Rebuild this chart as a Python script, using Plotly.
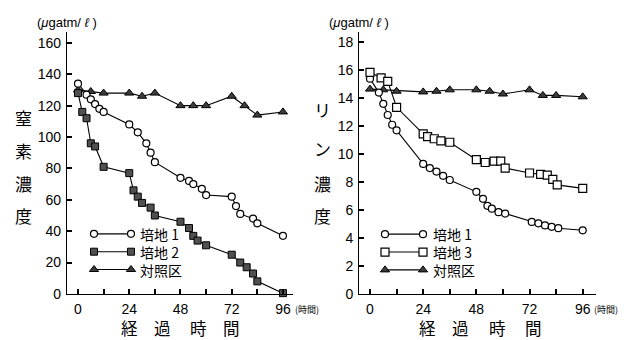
import plotly.graph_objects as go

# --- Nitrogen (left panel) ---
n_t1 = [0, 4, 6, 8, 10, 12, 24, 28, 32, 34, 36, 48, 52, 54, 58, 60, 72, 74, 76, 82, 84, 96]
n_v1 = [134, 127, 124, 121, 118, 116, 108, 103, 96, 90, 84, 74, 72, 70, 67, 63, 62, 56, 51, 48, 45, 37]

n_t2 = [0, 2, 4, 6, 8, 12, 24, 26, 28, 30, 34, 36, 48, 52, 54, 56, 60, 72, 76, 79, 82, 84, 96]
n_v2 = [128, 116, 112, 96, 94, 81, 77, 66, 62, 58, 55, 50, 46, 42, 37, 34, 31, 25, 20, 17, 13, 8, 0.5]

n_tc = [0, 6, 12, 24, 30, 36, 48, 54, 60, 72, 78, 84, 96]
n_vc = [130, 129, 128, 128, 126, 128, 120, 120, 120, 126, 120, 114, 116]

# --- Phosphorus (right panel) ---
p_t1 = [0, 4, 6, 8, 10, 12, 24, 27, 30, 33, 36, 48, 51, 53, 55, 58, 61, 73, 76, 79, 82, 85, 96]
p_v1 = [15.4, 14.4, 13.6, 12.8, 12.1, 11.7, 9.3, 9.0, 8.75, 8.45, 8.15, 7.3, 6.8, 6.3, 6.1,
        5.85, 5.75, 5.15, 5.05, 4.9, 4.8, 4.7, 4.55]

p_t3 = [0, 5, 8, 12, 24, 26, 29, 32, 36, 48, 52, 56, 59, 61, 72, 77, 80, 82.5, 84.5, 96]
p_v3 = [15.85, 15.45, 15.2, 13.35, 11.45, 11.25, 11.1, 10.95, 10.85, 9.6, 9.4, 9.5, 9.5, 9.0,
        8.65, 8.55, 8.5, 8.2, 7.8, 7.55]

p_tc = [0, 6, 12, 24, 30, 36, 48, 54, 60, 72, 78, 84, 96]
p_vc = [14.65, 14.6, 14.5, 14.45, 14.5, 14.6, 14.6, 14.5, 14.3, 14.6, 14.2, 14.2, 14.1]

x_tickvals = list(range(0, 97, 12))
x_ticktext = [str(v) if v % 24 == 0 else "" for v in x_tickvals]
n_yticks = list(range(0, 161, 20))
p_yticks = list(range(0, 19, 2))

W, H = 630, 340
FONT = "Liberation Sans, Arial, Noto Sans CJK JP"
CJK = "Noto Sans CJK JP, Liberation Sans"

STYLE = {
    "circle": dict(symbol="circle", size=7, color="white", line=dict(color="black", width=1.2)),
    "sq_dark": dict(symbol="square", size=7, color="#505050", line=dict(color="black", width=1)),
    "sq_open": dict(symbol="square", size=8, color="white", line=dict(color="black", width=1.2)),
    "tri": dict(symbol="triangle-up", size=8, color="#3c3c3c", line=dict(color="black", width=1)),
}
LINE = dict(color="black", width=1.1)

fig = go.Figure()


def series(t, v, style, xa, ya):
    fig.add_trace(go.Scatter(x=t, y=v, mode="lines+markers", line=LINE, marker=STYLE[style],
                             xaxis=xa, yaxis=ya, cliponaxis=False, showlegend=False,
                             hoverinfo="skip"))


series(n_tc, n_vc, "tri", "x", "y")
series(n_t2, n_v2, "sq_dark", "x", "y")
series(n_t1, n_v1, "circle", "x", "y")

series(p_tc, p_vc, "tri", "x2", "y2")
series(p_t1, p_v1, "circle", "x2", "y2")
series(p_t3, p_v3, "sq_open", "x2", "y2")


def px_dom(a, b, total):
    return [a / total, b / total]


axis_common = dict(showgrid=False, zeroline=False, showline=True, linecolor="black",
                   linewidth=1.3, ticks="inside", ticklen=5, tickwidth=1.5,
                   tickcolor="black", tickfont=dict(family=FONT, size=14, color="black"))
x_common = dict(tickvals=x_tickvals, ticktext=x_ticktext, ticklabelstandoff=2, **axis_common)
y_common = dict(domain=[1 - 301 / H, 1 - 33 / H], ticklabelstandoff=2, **axis_common)

fig.update_layout(
    width=W, height=H, margin=dict(l=0, r=0, t=0, b=0),
    paper_bgcolor="white", plot_bgcolor="rgba(0,0,0,0)",
    xaxis=dict(domain=px_dom(67, 293, W), range=[-5.15, 100.7], anchor="y", **x_common),
    yaxis=dict(range=[0, 166.8], tickvals=n_yticks, anchor="x", **y_common),
    xaxis2=dict(domain=px_dom(359.3, 596, W), range=[-4.83, 102], anchor="y2", **x_common),
    yaxis2=dict(range=[0, 18.72], tickvals=p_yticks, anchor="x2", **y_common),
    # pixel-space overlay used for the legend keys
    xaxis3=dict(domain=[0, 1], range=[0, W], visible=False, anchor="y3"),
    yaxis3=dict(domain=[0, 1], range=[H, 0], visible=False, anchor="x3"),
)

# Legend keys: a short line with a marker at each end, labels in one text block
legends = [
    (94, 131, 137.5, [239.5, 257.75, 276], ["circle", "sq_dark", "tri"], ["培地 1", "培地 2", "対照区"]),
    (385, 423, 431, [239.8, 258.1, 276.4], ["circle", "sq_open", "tri"], ["培地 1", "培地 3", "対照区"]),
]
annotations = []
for x0, x1, xt, ys, styles, labels in legends:
    for y, style in zip(ys, styles):
        fig.add_trace(go.Scatter(x=[x0, x1], y=[y, y], mode="lines+markers", line=LINE,
                                 marker=STYLE[style], xaxis="x3", yaxis="y3",
                                 showlegend=False, hoverinfo="skip", cliponaxis=False))
    annotations.append(dict(x=xt, y=ys[1], text="<br>".join(labels), xref="x3", yref="y3",
                            showarrow=False, xanchor="left", yanchor="middle", align="left",
                            font=dict(family=CJK, size=14, color="black")))


def txt(x, y, s, size, family=CJK, **kw):
    annotations.append(dict(x=x, y=y, text=s, xref="x3", yref="y3", showarrow=False,
                            xanchor="center", yanchor="middle",
                            font=dict(family=family, size=size, color="black"), **kw))


# units above the y axes
txt(67, 23, "(<i>μ</i>gatm/ <i>ℓ</i> )", 13, FONT)
txt(359, 23, "(<i>μ</i>gatm/ <i>ℓ</i> )", 13, FONT)
# time unit after the last tick
txt(307, 317, "(時間)", 9)
txt(606, 317, "(時間)", 9)
# x axis titles, one character at a time, along the bottom edge
for cx, ch in zip([129.5, 162.5, 198.5, 231.5, 427.5, 460, 497, 533], "経過時間経過時間"):
    annotations.append(dict(x=cx, y=-0.03, text=ch, xref="x3", yref="paper", showarrow=False,
                            xanchor="center", yanchor="bottom",
                            font=dict(family=CJK, size=16.5, color="black")))
# vertical y axis titles
for cy, ch in zip([120, 154, 188, 221], "窒素濃度"):
    txt(23, cy, ch, 17)
for cy, ch in zip([112, 152, 188, 221], "リン濃度"):
    txt(322, cy, ch, 17)

fig.update_layout(annotations=annotations)
fig.write_html("out.html")
